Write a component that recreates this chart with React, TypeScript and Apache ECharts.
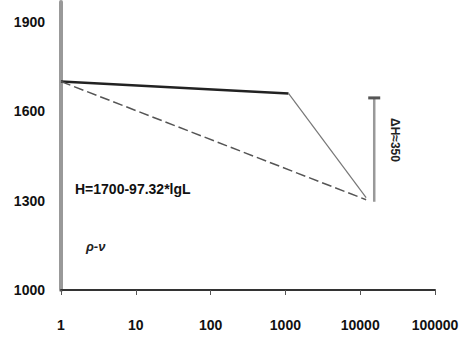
import React, { useEffect, useRef } from "react";
import * as echarts from "echarts";

// Data
const yTickLabels = [1000, 1300, 1600, 1900];
const xTickLabels = [1, 10, 100, 1000, 10000, 100000];
const Y_BASE = 1000;

// solid line: flat part then steep drop
const flatL = [1, 1100];
const flatH = [1700, 1660];
const dropL = [1100, 12000];
const dropH = [1660, 1310];
// dashed fit line H = 1700 - 97.32 lgL
const fitL = [1, 12000];
const fitH = [1700, 1303];
// vertical bar
const barL = [15400, 15400];
const barH = [1296, 1645];

const formulaText = "H=1700-97.32*lgL";
const barText = "ΔH≈350";
const squiggleText = "ρ-ν";

const pts = (xs: number[], ys: number[]) => xs.map((x, i) => [x, ys[i] - Y_BASE]);

export default function App() {
  const ref = useRef<HTMLDivElement>(null);
  useEffect(() => {
    if (!ref.current) return;
    const chart = echarts.init(ref.current, null, { renderer: "svg" });
    const font = "Liberation Sans";
    chart.setOption({
      animation: false,
      backgroundColor: "#ffffff",
      grid: { left: 61, right: 28, top: 2, bottom: 55, containLabel: false },
      xAxis: {
        type: "log",
        logBase: 10,
        min: xTickLabels[0],
        max: xTickLabels[xTickLabels.length - 1],
        axisLine: { show: true, lineStyle: { color: "#333", width: 2 } },
        axisTick: { show: true, length: 5, inside: false, lineStyle: { color: "#555", width: 1 } },
        minorTick: { show: false },
        splitLine: { show: false },
        axisLabel: {
          margin: 28,
          fontFamily: font,
          fontSize: 14,
          fontWeight: "bold",
          color: "#111",
          formatter: (v: number) => String(Math.round(v)),
        },
      },
      yAxis: {
        type: "value",
        min: 0,
        max: 967,
        interval: 300,
        axisLine: { show: true, lineStyle: { color: "#999", width: 4 } },
        axisTick: { show: false },
        splitLine: { show: false },
        axisLabel: {
          margin: 16,
          fontFamily: font,
          fontSize: 14,
          fontWeight: "bold",
          color: "#111",
          showMaxLabel: false,
          formatter: (v: number) => {
            const val = v + Y_BASE;
            return yTickLabels.includes(val) ? String(val) : "";
          },
        },
      },
      series: [
        {
          type: "line",
          data: pts(flatL, flatH),
          symbol: "none",
          lineStyle: { color: "#222", width: 2.5 },
        },
        {
          type: "line",
          data: pts(dropL, dropH),
          symbol: "none",
          lineStyle: { color: "#777", width: 1.2 },
        },
        {
          type: "line",
          data: pts(fitL, fitH),
          symbol: "none",
          lineStyle: { color: "#555", width: 1.5, type: [10, 4] },
        },
        {
          type: "line",
          data: pts(barL, barH).map((p, i) =>
            i === 1
              ? { value: p, symbol: "rect", symbolSize: [12, 3], itemStyle: { color: "#555" } }
              : { value: p, symbol: "none" }
          ),
          lineStyle: { color: "#999", width: 2.5 },
        },
      ],
      graphic: [
        {
          type: "text",
          left: 75,
          top: 182,
          style: { text: formulaText, fontFamily: font, fontSize: 14, fontWeight: "bold", fill: "#111" },
        },
        {
          type: "text",
          x: 395,
          y: 118,
          rotation: -Math.PI / 2,
          style: { text: barText, fontFamily: font, fontSize: 12, fontWeight: "bold", fill: "#222", textVerticalAlign: "middle" },
        },
        {
          type: "text",
          left: 86,
          top: 240,
          style: { text: squiggleText, fontFamily: font, fontSize: 13, fontWeight: "bold", fontStyle: "italic", fill: "#222" },
        },
      ],
    });
    return () => chart.dispose();
  }, []);
  return <div ref={ref} style={{ position: "fixed", left: 0, top: 0, width: 463, height: 345 }} />;
}
